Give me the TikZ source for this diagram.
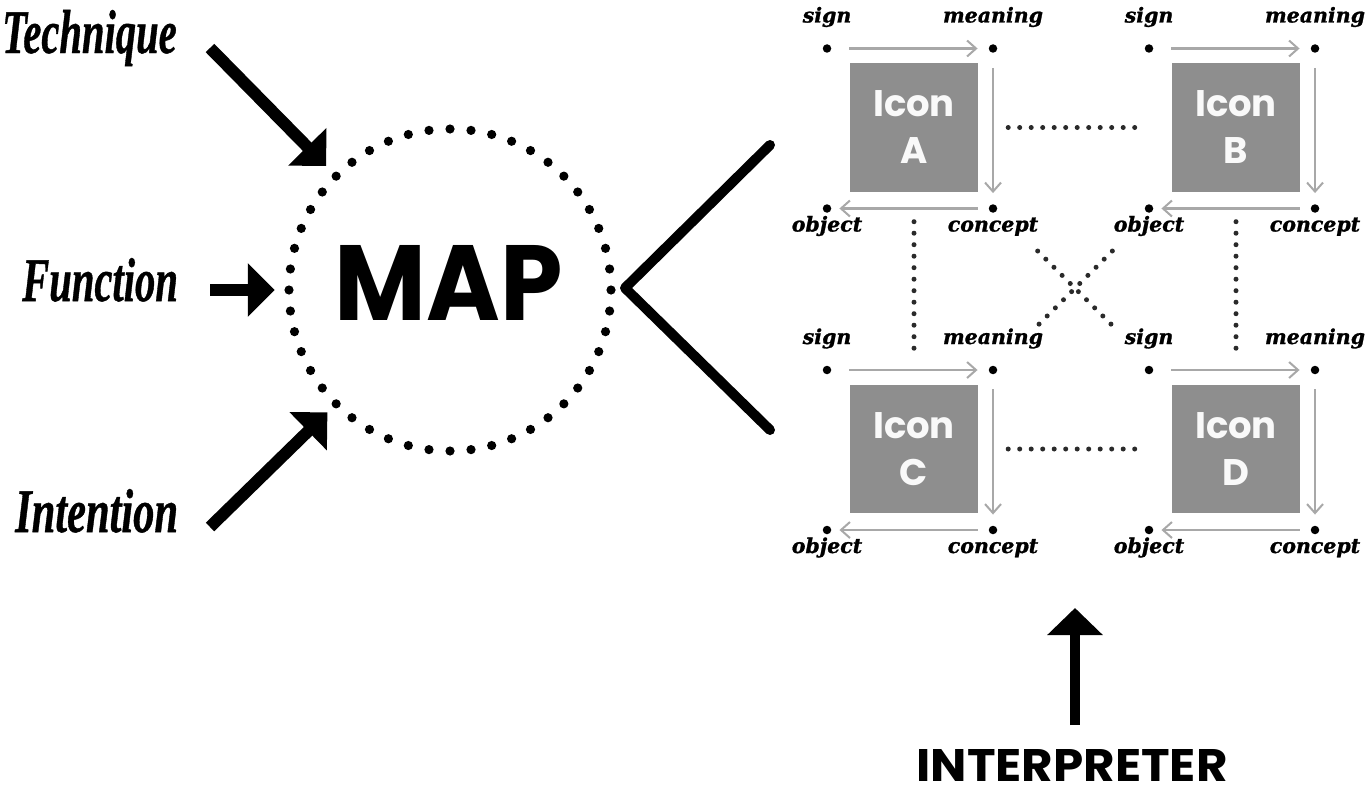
\documentclass[tikz,border=0pt]{standalone}
\usepackage{fontspec}
\usepackage{graphicx}
\usetikzlibrary{arrows.meta}
\newfontfamily\popfont{Poppins}
\newfontfamily\serifL{Liberation Serif}[BoldItalicFeatures={FakeBold=0.8}]
\newfontfamily\dvserif{DejaVu Serif}[BoldItalicFeatures={FakeBold=1.2}]
\definecolor{iconfill}{HTML}{8E8E8E}
\definecolor{arrowgray}{HTML}{A8A8A8}
\definecolor{dotgray}{HTML}{2A2A2A}
\begin{document}
\begin{tikzpicture}[x=1pt,y=-1pt,
  bigarrow/.style={line width=12pt, -{Triangle[length=27pt,width=52pt]}},
  iconbox/.style={fill=iconfill, minimum size=128pt, inner sep=0pt, text=white!95!iconfill, font=\popfont\bfseries\fontsize{37}{47}\selectfont, align=center},
  corner/.style={circle, fill=black, minimum size=8.5pt, inner sep=0pt},
  cornerlabel/.style={font=\dvserif\bfseries\itshape\fontsize{20.5}{24}\selectfont, inner sep=0pt, anchor=base},
  flow/.style={draw=arrowgray, line width=2.2pt, -{Straight Barb[length=9pt,width=16pt,line width=2pt]}},
  dotline/.style={draw=dotgray, line width=5pt, line cap=round, dash pattern=on 0pt off 11.5pt},
  sidelabel/.style={font=\serifL\bfseries\itshape\fontsize{62}{70}\selectfont, inner sep=0pt, anchor=base west}
]
\useasboundingbox (0,0) rectangle (1367,792);

% left labels
\node[sidelabel] (tech) at (2,53) {\scalebox{0.655}[1]{Technique}};
\node[sidelabel] (func) at (22,301) {\scalebox{0.655}[1]{Function}};
\node[sidelabel] (inten) at (15,532) {\scalebox{0.685}[1]{Intention}};

% map circle
\node[circle, minimum size=322pt, inner sep=0pt] (map) at (450,290) {};
\foreach \a in {0,7.5,...,352.5} \fill (450,290) ++(\a:161) circle (4.6pt);
\node[inner sep=0pt, font=\popfont\bfseries] (maplabel) at (449,283) {\resizebox{228pt}{75pt}{MAP}};

\coordinate (techTail) at (210,48);
\coordinate (funcTail) at (210,290);
\coordinate (intenTail) at (210,527);
\draw[bigarrow, shorten >=14pt] (techTail) -- (map.135);
\draw[bigarrow, shorten >=14pt] (funcTail) -- (map.west);
\draw[bigarrow, shorten >=12pt] (intenTail) -- (map.225);

% chevron
\coordinate (chevTop) at (770,145);
\coordinate (chevTip) at (625,288);
\coordinate (chevBot) at (770,430);
\draw[line width=10pt, line cap=round, line join=round] (chevTop) -- (chevTip) -- (chevBot);

% icons
\foreach \n/\cx/\cy in {A/914/127.5, B/1236/127.5, C/914/449, D/1236/449} {
  \node[iconbox] (\n) at (\cx,\cy) {Icon\\\n};
  \node[corner] (\n-s) at (\cx-87,\cy-79) {};
  \node[corner] (\n-m) at (\cx+79,\cy-79) {};
  \node[corner] (\n-o) at (\cx-87,\cy+81) {};
  \node[corner] (\n-c) at (\cx+79,\cy+81) {};
  \node[cornerlabel] (\n-sl) at (\cx-87,\cy-105) {sign};
  \node[cornerlabel] (\n-ml) at (\cx+79,\cy-105) {meaning};
  \node[cornerlabel] (\n-ol) at (\cx-87,\cy+104) {object};
  \node[cornerlabel] (\n-cl) at (\cx+79,\cy+104) {concept};
  \draw[flow, shorten <=18pt, shorten >=11pt] (\n-s) -- (\n-m);
  \draw[flow, shorten <=15pt, shorten >=11pt] (\n-m) -- (\n-c);
  \draw[flow, shorten <=11pt, shorten >=8pt] (\n-c) -- (\n-o);
}

% dotted relations
\draw[dotline, shorten <=30pt, shorten >=30pt] (A) -- (B);
\draw[dotline, shorten <=30pt, shorten >=30pt] (C) -- (D);
\draw[dotline, shorten <=30pt, shorten >=32pt] (A) -- (C);
\draw[dotline, shorten <=30pt, shorten >=32pt] (B) -- (D);
\draw[dotline, shorten <=84pt, shorten >=82pt] (A.south east) -- (D.north west);
\draw[dotline, shorten <=84pt, shorten >=82pt] (B.south west) -- (C.north east);

% interpreter
\node[inner sep=0pt, font=\popfont\bfseries] (interp) at (1072,765) {\resizebox{311pt}{32pt}{INTERPRETER}};
\coordinate (interpTail) at (1075,725);
\coordinate (interpTip) at (1075,608);
\draw[line width=10pt, -{Triangle[length=27pt,width=54pt]}] (interpTail) -- (interpTip);
\end{tikzpicture}
\end{document}
